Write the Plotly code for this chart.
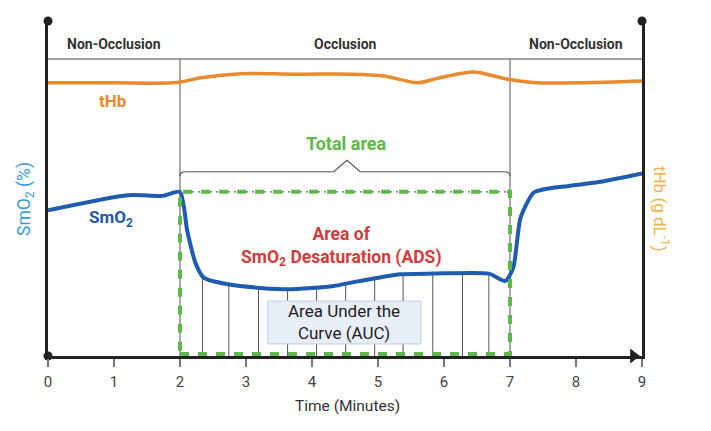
import numpy as np
import plotly.graph_objects as go

# ---------------- data ----------------
time_smo2 = [0, 1.21, 1.74, 2.0, 2.11, 2.24, 2.36, 2.82, 3.63, 4.33, 4.59, 5.34, 5.84, 6.68, 6.93, 7.05, 7.16, 7.36, 7.61, 7.87, 8.37, 9.0]
smo2 = [43.5, 48.0, 47.8, 49.0, 37.3, 27.5, 23.4, 21.1, 19.9, 20.9, 21.9, 24.4, 24.6, 24.6, 22.4, 26.4, 41.3, 48.8, 50.1, 50.7, 52.0, 54.5]

time_thb = [0, 1.0, 1.95, 2.32, 2.92, 3.83, 4.59, 5.09, 5.6, 5.9, 6.45, 6.96, 7.41, 8.11, 9.0]
thb = [13.05, 13.05, 13.06, 13.29, 13.48, 13.46, 13.46, 13.37, 13.05, 13.26, 13.56, 13.22, 13.05, 13.05, 13.13]

hatch_x = [2.34, 2.74, 3.19, 3.63, 4.07, 4.51, 4.95, 5.38, 5.83, 6.28, 6.68]

phase_bounds = [0, 2, 7, 9]
phase_labels = ["Non-Occlusion", "Occlusion", "Non-Occlusion"]
x_ticks = [0, 1, 2, 3, 4, 5, 6, 7, 8, 9]

# ---------------- style ----------------
FONT = "Roboto"
GREEN = "#5DB94A"
BLUE = "#1F5CB0"
ORANGE = "#E88A2E"
HEADER_Y = 88.66

fig = go.Figure()

# hatch lines under curve
hatch_top = np.interp(hatch_x, time_smo2, smo2)
for hx, ht in zip(hatch_x, hatch_top):
    fig.add_shape(type="line", x0=hx, x1=hx, y0=0, y1=ht, xref="x", yref="y",
                  line=dict(color="#555", width=1), layer="below")

# phase divider lines and header
for b in phase_bounds[1:-1]:
    fig.add_shape(type="line", x0=b, x1=b, y0=0, y1=HEADER_Y, xref="x", yref="y",
                  line=dict(color="#555", width=1), layer="below")
fig.add_shape(type="line", x0=phase_bounds[0], x1=phase_bounds[-1], y0=HEADER_Y, y1=HEADER_Y,
              xref="x", yref="y", line=dict(color="#444", width=1))

baseline = smo2[time_smo2.index(2.0)]
x_start, x_end = phase_bounds[1], phase_bounds[2]

# gray dotted line under green dashes on top edge
fig.add_shape(type="line", x0=x_start, x1=x_end, y0=baseline, y1=baseline, xref="x", yref="y",
              line=dict(color="#666", width=1.2, dash="2px,4px"))
# green dashed total-area box
fig.add_shape(type="rect", x0=x_start, x1=x_end, y0=0.6, y1=baseline, xref="x", yref="y",
              line=dict(color=GREEN, width=4, dash="9px,9px"))

# brace above box
bl, bp, be = 55.0, 58.4, 53.7
mid = 4.53
brace = (f"M {x_start},{be} Q {x_start},{bl} {x_start+0.08},{bl} L {mid-0.2},{bl} "
         f"L {mid},{bp} L {mid+0.2},{bl} L {x_end-0.08},{bl} Q {x_end},{bl} {x_end},{be}")
fig.add_shape(type="path", path=brace, xref="x", yref="y", line=dict(color="#555", width=1.2))

# AUC box
fig.add_shape(type="rect", x0=3.33, x1=5.65, y0=3.6, y1=16.4, xref="x", yref="y",
              line=dict(color="#B9CDE3", width=1), fillcolor="#E8EFF9", layer="above")

# tHb line (secondary axis)
fig.add_trace(go.Scatter(x=time_thb, y=thb, mode="lines", yaxis="y2",
                         line=dict(color=ORANGE, width=3.5, shape="spline", smoothing=0.8),
                         hoverinfo="skip", showlegend=False))
# SmO2 line
fig.add_trace(go.Scatter(x=time_smo2, y=smo2, mode="lines",
                         line=dict(color=BLUE, width=4, shape="spline", smoothing=0.6),
                         hoverinfo="skip", showlegend=False, cliponaxis=False))

# axis decorations: dots and arrow
fig.add_trace(go.Scatter(x=[0, 0, 9], y=[100, 0, 100], mode="markers",
                         marker=dict(color="#222", size=9), cliponaxis=False,
                         hoverinfo="skip", showlegend=False))
fig.add_trace(go.Scatter(x=[8.87], y=[0], mode="markers",
                         marker=dict(color="#222", size=13, symbol="triangle-right"),
                         cliponaxis=False, hoverinfo="skip", showlegend=False))

ann = []
for i, lab in enumerate(phase_labels):
    cx = (phase_bounds[i] + phase_bounds[i + 1]) / 2
    ann.append(dict(x=cx, y=93.1, xref="x", yref="y", text=f"<b>{lab}</b>", showarrow=False,
                    font=dict(family=FONT, size=14, color="#333")))
ann += [
    dict(x=0.97, y=76.1, xref="x", yref="y", text="<b>tHb</b>", showarrow=False,
         font=dict(family=FONT, size=17, color=ORANGE)),
    dict(x=0.95, y=40.9, xref="x", yref="y", text="<b>SmO<sub>2</sub></b>", showarrow=False,
         font=dict(family=FONT, size=17, color="#2458A8")),
    dict(x=4.53, y=63.3, xref="x", yref="y", text="<b>Total area</b>", showarrow=False,
         font=dict(family=FONT, size=18, color=GREEN)),
    dict(x=4.45, y=32.8, xref="x", yref="y",
         text="<b>Area of<br>SmO<sub>2</sub> Desaturation (ADS)</b>", showarrow=False,
         font=dict(family=FONT, size=17.5, color="#D23B3B")),
    dict(x=4.48, y=10.1, xref="x", yref="y", text="Area Under the<br>Curve (AUC)", showarrow=False,
         font=dict(family=FONT, size=17, color="#222")),
    dict(x=-0.037, y=0.469, xref="paper", yref="paper", xanchor="center", yanchor="middle",
         text="SmO<sub>2</sub> (%)", textangle=-90,
         showarrow=False, font=dict(family=FONT, size=17.5, color="#3C9BD6")),
    dict(x=1.032, y=0.439, xref="paper", yref="paper", xanchor="center", yanchor="middle",
         text="tHb (g dL<sup>-1</sup>)", textangle=90,
         showarrow=False, font=dict(family=FONT, size=17, color="#F2B24A")),
    dict(x=0.505, y=-0.149, xref="paper", yref="paper", xanchor="center", yanchor="middle",
         text="Time (Minutes)", showarrow=False,
         font=dict(family=FONT, size=15.5, color="#333")),
]

fig.update_layout(
    width=711, height=431,
    margin=dict(l=40, r=77, t=13, b=83),
    paper_bgcolor="white", plot_bgcolor="white",
    font=dict(family=FONT),
    xaxis=dict(range=[0, 9], tickvals=x_ticks, ticktext=[str(t) for t in x_ticks],
               showgrid=False, zeroline=False, showline=True, linecolor="#222", linewidth=2.5,
               ticks="outside", ticklen=8, tickwidth=1.5, tickcolor="#777",
               ticklabelstandoff=2,
               tickfont=dict(family=FONT, size=15, color="#444")),
    yaxis=dict(range=[0, 100], showgrid=False, zeroline=False, showticklabels=False,
               showline=True, linecolor="#222", linewidth=3),
    yaxis2=dict(range=[0, 16], overlaying="y", side="right", showgrid=False, zeroline=False,
                showticklabels=False, showline=True, linecolor="#222", linewidth=3),
    annotations=ann,
)

fig.write_html("out.html")
